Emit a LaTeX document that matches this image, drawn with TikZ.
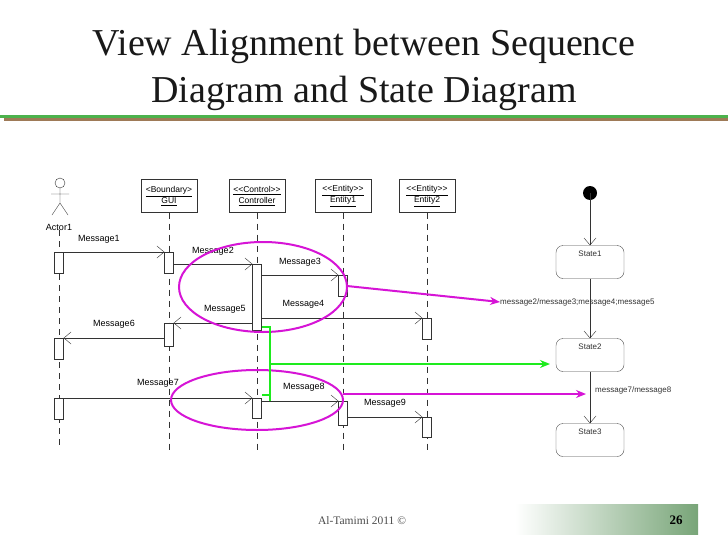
\documentclass[tikz,border=0pt]{standalone}
\usepackage{fontspec}
\setmainfont{Liberation Serif}
\setsansfont{Liberation Sans}[Ligatures=NoCommon]
\usetikzlibrary{arrows.meta,shapes.geometric}
\definecolor{hlmag}{RGB}{214,20,214}
\definecolor{hlgreen}{RGB}{30,235,30}
\definecolor{pagegreen}{RGB}{120,165,120}
\begin{document}
\begin{tikzpicture}[x=1pt,y=-1pt,
  lbl/.style={font=\sffamily\fontsize{9}{10}\selectfont, inner sep=0pt},
  objbox/.style={draw=black!80, minimum width=56pt, minimum height=33pt, align=center, font=\sffamily\fontsize{8.5}{11}\selectfont, inner sep=1pt},
  life/.style={draw=black!80, dashed, dash pattern=on 6pt off 5pt},
  act/.style={draw=black!80, fill=white, minimum width=9pt, inner sep=0pt},
  msg/.style={draw=black!80, -{Straight Barb[length=7pt,width=12pt]}},
  hl/.style={draw=hlmag, line width=2pt},
  hlarrow/.style={line width=2pt, -{Stealth[length=10pt,width=8pt]}},
  state/.style={draw=black!70, rounded corners=7pt, minimum width=68pt, minimum height=33pt, inner sep=0pt},
  stxt/.style={font=\sffamily\fontsize{8}{9}\selectfont, inner sep=0pt, text=black!80}]
\useasboundingbox (0,0) rectangle (728,546);
\fill[white] (0,0) rectangle (728,546);
% title
\node[font=\fontsize{38}{40}\selectfont, text=black!90] (title1) at (364,46) {View Alignment between Sequence};
\node[font=\fontsize{38}{40}\selectfont, text=black!90] (title2) at (364,93) {Diagram and State Diagram};
\fill[green!40!gray] (0,115) rectangle (728,118);
\fill[brown!70!black!80] (4,118) rectangle (728,121);
% actor
\draw[black!80] (60,183) circle (5pt);
\draw[black!80] (60,188) -- (60,203) (51,194) -- (69,194) (60,203) -- (52,215) (60,203) -- (68,215);
\node[lbl] (actorlbl) at (59,227) {Actor1};
% objects
\node[objbox] (gui) at (169,196) {\underline{<Boundary>}\\\underline{GUI}};
\node[objbox] (ctrl) at (257,196) {\underline{{<}{<}Control{>}{>}}\\\underline{Controller}};
\node[objbox] (e1) at (343,196) {\underline{{<}{<}Entity{>}{>}}\\\underline{Entity1}};
\node[objbox] (e2) at (427,196) {\underline{{<}{<}Entity{>}{>}}\\\underline{Entity2}};
% lifelines
\coordinate (la) at (59,450); \coordinate (lg) at (169,450); \coordinate (lc) at (257,450); \coordinate (l1) at (343,450); \coordinate (l2) at (427,450);
\draw[life] (actorlbl.south) -- (la);
\draw[life] (gui.south) -- (lg);
\draw[life] (ctrl.south) -- (lc);
\draw[life] (e1.south) -- (l1);
\draw[life] (e2.south) -- (l2);
% activations
\node[act, minimum height=21pt, anchor=north] (aa1) at (59,252) {};
\node[act, minimum height=21pt, anchor=north] (aa2) at (59,338) {};
\node[act, minimum height=21pt, anchor=north] (aa3) at (59,398) {};
\node[act, minimum height=21pt, anchor=north] (ag1) at (169,252) {};
\node[act, minimum height=23pt, anchor=north] (ag2) at (169,323) {};
\node[act, minimum height=66pt, anchor=north] (ac1) at (257,264) {};
\node[act, minimum height=20pt, anchor=north] (ac2) at (257,398) {};
\node[act, minimum height=21pt, anchor=north] (ae1) at (343,275) {};
\node[act, minimum height=24pt, anchor=north] (ae2) at (343,401) {};
\node[act, minimum height=21pt, anchor=north] (af1) at (427,318) {};
\node[act, minimum height=20pt, anchor=north] (af2) at (427,417) {};
% messages
\draw[msg] (aa1.north east) -- (ag1.north west) node[lbl, pos=0.35, above=8pt] {Message1};
\draw[msg] (ag1.east |- 0,264) -- (ac1.north west) node[lbl, pos=0.5, above=8pt] {Message2};
\draw[msg] (ac1.east |- 0,275) -- (ae1.north west) node[lbl, pos=0.5, above=8pt] {Message3};
\draw[msg] (ac1.east |- 0,318) -- (af1.north west) node[lbl, pos=0.26, above=9pt] {Message4};
\draw[msg] (ac1.west |- 0,323) -- (ag2.north east) node[lbl, pos=0.35, above=9pt] {Message5};
\draw[msg] (ag2.west |- 0,338) -- (aa2.north east) node[lbl, pos=0.5, above=9pt] {Message6};
\draw[msg] (aa3.north east) -- (ac2.north west) node[lbl, pos=0.5, above=10pt] {Message7};
\draw[msg] (ac2.east |- 0,401) -- (ae2.north west) node[lbl, pos=0.55, above=9pt] {Message8};
\draw[msg] (ae2.east |- 0,417) -- (af2.north west) node[lbl, pos=0.5, above=9pt] {Message9};
% state diagram
\fill (590,193) circle (7pt) coordinate (init);
\node[state] (s1) at (590,262) {};
\node[state] (s2) at (590,355) {};
\node[state] (s3) at (590,440) {};
\node[stxt, anchor=north] at (s1.north) [yshift=-5pt] {State1};
\node[stxt, anchor=north] at (s2.north) [yshift=-5pt] {State2};
\node[stxt, anchor=north] at (s3.north) [yshift=-5pt] {State3};
\draw[msg] (init) -- (s1.north);
\draw[msg] (s1) -- (s2.north);
\draw[msg] (s2) -- (s3.north);
\node[stxt, anchor=west] (t1) at (500,302) {message2/message3;message4;message5};
\node[stxt, anchor=west] (t2) at (595,390) {message7/message8};
% highlights
\draw[hl] (263,287) ellipse (84pt and 45pt);
\draw[hl] (257,400) ellipse (86pt and 30pt);
\coordinate (m1s) at (347,286); \coordinate (m2s) at (343,394); \coordinate (m2e) at (586,394);
\draw[hlarrow, hlmag] (m1s) -- (t1.west);
\draw[hlarrow, hlmag] (m2s) -- (m2e);
\coordinate (g0) at (262,327); \coordinate (g1) at (262,395);
\coordinate (gs) at (270,364); \coordinate (ge) at (550,364);
\draw[line width=2pt, hlgreen] (g0) -- (270,327) -- (270,401);
\draw[line width=2pt, hlgreen] (g1) -- (270,395);
\draw[hlarrow, hlgreen] (gs) -- (ge);
% footer
\node[font=\fontsize{11.5}{12}\selectfont, text=black!70] (foot) at (362,521) {Al-Tamimi 2011 \textcopyright};
\shade[left color=white, right color=pagegreen] (515,504) rectangle (698,534);
\node[font=\bfseries\fontsize{13}{14}\selectfont] (pg) at (676,520) {26};
\end{tikzpicture}
\end{document}
